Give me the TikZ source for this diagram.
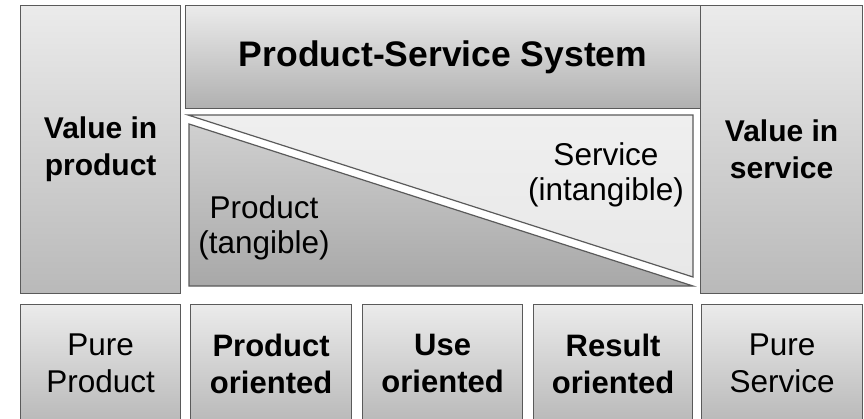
\documentclass[tikz,border=0pt]{standalone}
\usepackage{fontspec}
\setmainfont{Liberation Sans}
\definecolor{bordergray}{HTML}{5A5A5A}
\definecolor{boxtop}{HTML}{EBEBEB}
\definecolor{boxbot}{HTML}{B9B9B9}
\definecolor{pssbot}{HTML}{B0B0B0}
\definecolor{lighttri}{HTML}{EFEFEF}
\definecolor{lighttribot}{HTML}{E8E8E8}
\definecolor{darktop}{HTML}{D0D0D0}
\definecolor{darkbot}{HTML}{A8A8A8}
\begin{document}
\begin{tikzpicture}[x={(1pt,0pt)}, y={(0pt,-1pt)},
  box/.style={draw=bordergray, line width=1.2pt, top color=boxtop, bottom color=boxbot,
    inner sep=0pt, anchor=north west, align=center},
  boldtxt/.style={font=\fontsize{30}{37}\selectfont\bfseries},
  regtxt/.style={font=\fontsize{31.5}{37}\selectfont},
  lowbold/.style={font=\fontsize{31}{37}\selectfont\bfseries},
  trilabel/.style={align=center, inner sep=0pt, font=\fontsize{31.5}{35}\selectfont},
  tri/.style={draw=bordergray, line width=1.2pt, line join=miter}]
\clip (0,0) rectangle (864,418);
\fill[white] (0,0) rectangle (864,418);
% top row
\node[box, boldtxt, minimum width=160pt, minimum height=288pt] (vp) at (20,5) {Value in\\product};
\node[box, bottom color=pssbot, minimum width=515pt, minimum height=103pt,
  font=\fontsize{35.5}{40}\selectfont\bfseries] (pss) at (185,5) {Product-Service System};
\node[box, boldtxt, minimum width=162pt, minimum height=288pt] (vs) at (700,5) {Value in\\service};
% triangles
\path[tri, top color=lighttri, bottom color=lighttribot] (188,115) -- (693,115) -- (693,277) -- cycle;
\path[tri, top color=darktop, bottom color=darkbot] (189,124) -- (693,286) -- (189,286) -- cycle;
\node[trilabel] (serv) at (606,175) {Service\\(intangible)};
\node[trilabel] (prod) at (264,228) {Product\\(tangible)};
% bottom row
\node[box, regtxt, minimum width=160pt, minimum height=118pt] (pp) at (20,304) {Pure\\Product};
\node[box, lowbold, minimum width=161pt, minimum height=118pt] (po) at (190,304) {Product\\oriented};
\node[box, lowbold, minimum width=160pt, minimum height=118pt] (uo) at (362,304) {Use\\oriented};
\node[box, lowbold, minimum width=159pt, minimum height=118pt] (ro) at (533,304) {Result\\oriented};
\node[box, regtxt, minimum width=161pt, minimum height=118pt] (ps) at (701,304) {Pure\\Service};
\end{tikzpicture}
\end{document}
